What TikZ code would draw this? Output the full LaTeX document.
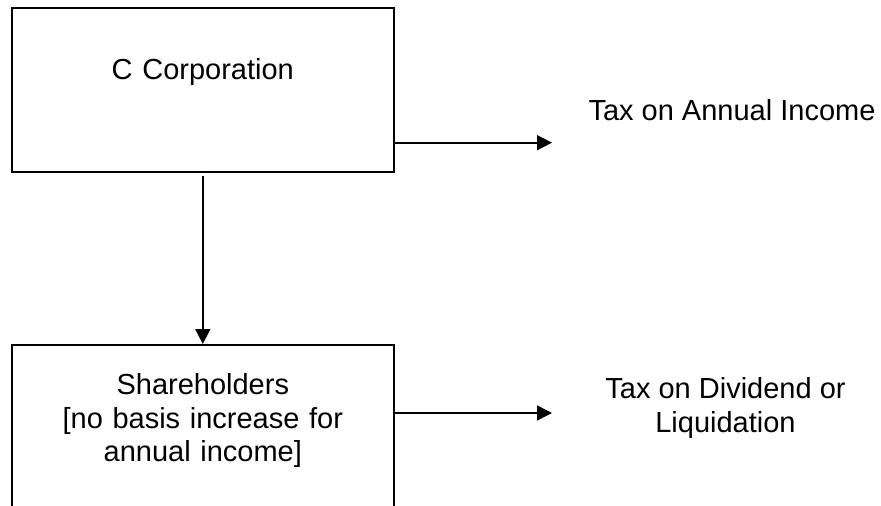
\documentclass[tikz,border=0pt]{standalone}
\usepackage{fontspec}
\setmainfont{Liberation Sans}
\usetikzlibrary{arrows.meta,positioning}

\begin{document}
\begin{tikzpicture}[x=1pt, y=-1pt,
        block/.style={draw, line width=1.6pt, inner sep=0pt, text width=382pt, align=center, font=\fontsize{29pt}{33.5pt}\selectfont},
        label/.style={inner sep=0pt, align=center, font=\fontsize{29pt}{33.5pt}\selectfont},
        arrow/.style={-{Triangle[length=15pt, width=15pt]}, line width=1.6pt}
    ]
        \clip (0, 0) rectangle (881, 506);

        % Boxes
        \node[block, anchor=north west, text height=72pt, text depth=92pt] (corp) at (11, 7) {C Corporation};
        \node[block, anchor=north west, text height=50pt, text depth=150pt] (share) at (11, 344) {Shareholders\\{}[no basis increase for\\annual income]};

        % Taxes
        \node[label, anchor=base] (taxinc) at (732, 120) {Tax on Annual Income};
        \node[label, anchor=base] (taxdiv) at (725.5, 432) {Tax on Dividend or\\Liquidation};

        \coordinate (tipinc) at (552, 142.7);
        \coordinate (tipdiv) at (552, 413);

        % Arrows
        \draw[arrow] ([yshift=-3pt]corp.south) -- (share.north);
        \draw[arrow] (corp.east |- tipinc) -- (tipinc);
        \draw[arrow] (share.east |- tipdiv) -- (tipdiv);
    \end{tikzpicture}
\end{document}
